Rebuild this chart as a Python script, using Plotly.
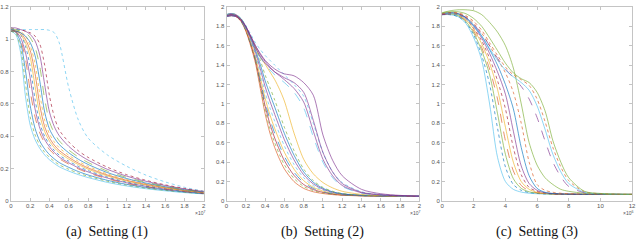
import plotly.graph_objects as go

# ---------------- data ----------------
# Panel (a): x in units of 1e7
xa = [0, .05, .1, .15, .2, .25, .3, .35, .4, .45, .5, .6, .7, .8, 1.0, 1.2, 1.4, 1.6, 1.8, 2.0]
a_curves = [
    [1.05,1.03,0.92,0.65,0.47,0.38,0.325,0.285,0.255,0.232,0.212,0.185,0.163,0.145,0.115,0.093,0.076,0.063,0.052,0.044],
    [1.05,1.035,0.95,0.73,0.52,0.41,0.345,0.302,0.27,0.245,0.224,0.196,0.172,0.153,0.122,0.098,0.08,0.066,0.054,0.045],
    [1.06,1.045,0.98,0.81,0.59,0.45,0.37,0.322,0.287,0.26,0.238,0.208,0.182,0.161,0.128,0.103,0.084,0.069,0.056,0.046],
    [1.05,1.045,0.995,0.88,0.68,0.52,0.42,0.36,0.318,0.288,0.262,0.228,0.198,0.174,0.137,0.109,0.088,0.072,0.058,0.047],
    [1.06,1.05,1.01,0.92,0.76,0.57,0.45,0.38,0.335,0.3,0.272,0.236,0.205,0.18,0.142,0.113,0.091,0.074,0.06,0.048],
    [1.07,1.06,1.03,0.96,0.83,0.63,0.48,0.4,0.35,0.313,0.284,0.246,0.214,0.188,0.148,0.118,0.095,0.077,0.062,0.05],
    [1.05,1.05,1.03,0.98,0.89,0.71,0.53,0.43,0.37,0.33,0.3,0.259,0.225,0.197,0.155,0.123,0.099,0.08,0.064,0.051],
    [1.06,1.05,1.04,1.0,0.93,0.79,0.59,0.46,0.39,0.345,0.313,0.27,0.234,0.205,0.161,0.128,0.103,0.083,0.066,0.053],
    [1.07,1.06,1.05,1.02,0.96,0.85,0.66,0.5,0.415,0.365,0.33,0.283,0.245,0.215,0.168,0.133,0.107,0.086,0.068,0.054],
    [1.05,1.05,1.04,1.02,0.98,0.9,0.74,0.55,0.445,0.39,0.35,0.298,0.258,0.226,0.176,0.139,0.111,0.089,0.07,0.056],
    [1.06,1.06,1.05,1.04,1.01,0.95,0.83,0.63,0.49,0.42,0.373,0.315,0.272,0.238,0.185,0.146,0.116,0.092,0.072,0.057],
    [1.07,1.07,1.06,1.05,1.03,0.99,0.9,0.72,0.55,0.46,0.405,0.338,0.29,0.253,0.196,0.154,0.122,0.096,0.075,0.059],
    [1.06,1.06,1.06,1.05,1.04,1.02,0.97,0.84,0.65,0.52,0.44,0.365,0.31,0.27,0.209,0.163,0.128,0.1,0.078,0.06],
    [1.06,1.06,1.06,1.06,1.06,1.06,1.06,1.06,1.055,1.04,0.98,0.7,0.5,0.39,0.285,0.215,0.16,0.118,0.085,0.06],
]
a_colors = ["#4DBEEE", "#77AC30", "#0072BD", "#D95319", "#7E2F8E", "#0072BD", "#EDB120",
            "#D95319", "#EDB120", "#0072BD", "#77AC30", "#7E2F8E", "#A2142F", "#4DBEEE"]

# Panel (b): x in units of 1e7
xb = [0, .05, .1, .15, .2, .25, .3, .35, .4, .45, .5, .55, .6, .7, .8, .9, 1.0, 1.1, 1.2, 1.4, 1.6, 1.8, 2.0]
b_curves = [
    [1.90,1.91,1.90,1.85,1.75,1.60,1.42,1.16,0.90,0.70,0.55,0.43,0.33,0.20,0.13,0.095,0.077,0.066,0.059,0.053,0.050,0.048,0.047],
    [1.91,1.92,1.90,1.85,1.755,1.61,1.436,1.189,0.94,0.747,0.599,0.477,0.373,0.232,0.15,0.107,0.083,0.069,0.061,0.054,0.05,0.048,0.047],
    [1.90,1.91,1.90,1.86,1.76,1.62,1.452,1.218,0.98,0.794,0.648,0.524,0.416,0.264,0.17,0.118,0.09,0.073,0.063,0.054,0.051,0.048,0.047],
    [1.92,1.93,1.91,1.86,1.765,1.63,1.468,1.247,1.02,0.841,0.697,0.571,0.459,0.296,0.19,0.13,0.096,0.076,0.065,0.055,0.051,0.049,0.047],
    [1.91,1.92,1.91,1.87,1.77,1.64,1.484,1.276,1.06,0.888,0.746,0.618,0.502,0.328,0.21,0.141,0.102,0.08,0.067,0.056,0.051,0.049,0.048],
    [1.90,1.91,1.90,1.87,1.778,1.655,1.508,1.32,1.12,0.959,0.82,0.689,0.567,0.376,0.24,0.158,0.112,0.085,0.07,0.057,0.052,0.049,0.048],
    [1.92,1.93,1.92,1.87,1.785,1.67,1.532,1.363,1.18,1.029,0.893,0.759,0.631,0.424,0.27,0.176,0.121,0.09,0.072,0.058,0.052,0.049,0.048],
    [1.91,1.92,1.91,1.88,1.793,1.685,1.556,1.407,1.24,1.10,0.967,0.83,0.696,0.472,0.30,0.193,0.131,0.095,0.075,0.059,0.053,0.05,0.048],
    [1.92,1.93,1.92,1.88,1.80,1.70,1.58,1.45,1.30,1.17,1.04,0.90,0.76,0.52,0.33,0.21,0.14,0.10,0.078,0.06,0.053,0.05,0.048],
    [1.91,1.92,1.91,1.87,1.79,1.69,1.58,1.48,1.41,1.33,1.25,1.15,1.03,0.70,0.43,0.28,0.19,0.135,0.10,0.068,0.055,0.05,0.048],
    [1.90,1.91,1.90,1.86,1.78,1.68,1.57,1.48,1.41,1.35,1.30,1.26,1.22,1.12,0.96,0.66,0.40,0.24,0.15,0.08,0.06,0.052,0.049],
    [1.91,1.92,1.91,1.87,1.80,1.70,1.60,1.51,1.44,1.38,1.33,1.29,1.25,1.16,1.02,0.72,0.43,0.26,0.16,0.085,0.062,0.053,0.049],
    [1.92,1.93,1.92,1.88,1.81,1.72,1.63,1.56,1.50,1.45,1.40,1.35,1.30,1.20,1.08,0.80,0.50,0.30,0.19,0.095,0.066,0.055,0.05],
    [1.90,1.91,1.90,1.86,1.79,1.69,1.58,1.49,1.42,1.37,1.33,1.30,1.27,1.22,1.12,0.83,0.50,0.30,0.18,0.09,0.065,0.055,0.05],
    [1.91,1.92,1.91,1.87,1.80,1.70,1.60,1.52,1.45,1.40,1.36,1.33,1.31,1.29,1.22,1.09,0.68,0.42,0.26,0.12,0.075,0.058,0.05],
]
b_colors = ["#D95319", "#77AC30", "#A2142F", "#0072BD", "#EDB120", "#4DBEEE", "#7E2F8E",
            "#0072BD", "#77AC30", "#EDB120", "#4DBEEE", "#7E2F8E", "#4DBEEE", "#7E2F8E", "#7E2F8E"]

# Panel (c): x in units of 1e6
xc = [0, 0.5, 1, 1.5, 2, 2.5, 3, 3.5, 4, 4.5, 5, 5.5, 6, 6.5, 7, 7.5, 8, 9, 10, 11, 12]
c_curves = [
    [1.92,1.92,1.90,1.83,1.68,1.45,1.00,0.45,0.20,0.12,0.092,0.08,0.075,0.072,0.07,0.069,0.068,0.068,0.067,0.067,0.067],
    [1.92,1.92,1.90,1.84,1.71,1.50,1.20,0.75,0.35,0.17,0.11,0.088,0.078,0.073,0.071,0.07,0.069,0.068,0.068,0.067,0.067],
    [1.93,1.93,1.91,1.85,1.73,1.55,1.30,0.90,0.48,0.23,0.13,0.095,0.082,0.075,0.072,0.07,0.069,0.068,0.068,0.067,0.067],
    [1.92,1.93,1.91,1.86,1.75,1.58,1.36,1.05,0.62,0.31,0.16,0.105,0.085,0.077,0.073,0.071,0.07,0.069,0.068,0.068,0.067],
    [1.93,1.93,1.92,1.87,1.77,1.62,1.42,1.15,0.76,0.40,0.20,0.12,0.09,0.078,0.073,0.071,0.07,0.069,0.068,0.068,0.067],
    [1.92,1.93,1.92,1.88,1.78,1.65,1.47,1.24,0.95,0.55,0.27,0.14,0.10,0.082,0.075,0.072,0.07,0.069,0.068,0.068,0.068],
    [1.93,1.94,1.93,1.89,1.80,1.68,1.52,1.33,1.10,0.72,0.36,0.18,0.11,0.085,0.076,0.072,0.07,0.069,0.068,0.068,0.068],
    [1.93,1.94,1.93,1.89,1.81,1.70,1.56,1.40,1.20,0.95,0.55,0.26,0.13,0.09,0.078,0.073,0.071,0.069,0.068,0.068,0.068],
    [1.93,1.94,1.93,1.90,1.83,1.73,1.60,1.46,1.32,1.12,0.80,0.40,0.17,0.11,0.09,0.08,0.075,0.071,0.069,0.068,0.068],
    [1.94,1.96,1.97,1.97,1.96,1.92,1.84,1.74,1.60,1.37,1.00,0.60,0.37,0.24,0.17,0.12,0.10,0.08,0.072,0.07,0.069],
    [1.92,1.93,1.92,1.89,1.82,1.72,1.60,1.47,1.36,1.27,1.18,1.05,0.86,0.62,0.40,0.25,0.15,0.085,0.073,0.069,0.068],
    [1.93,1.93,1.92,1.88,1.80,1.70,1.57,1.45,1.35,1.28,1.22,1.14,0.98,0.74,0.48,0.30,0.18,0.09,0.075,0.07,0.068],
    [1.93,1.94,1.94,1.91,1.85,1.76,1.63,1.50,1.38,1.30,1.25,1.19,1.05,0.82,0.55,0.35,0.21,0.095,0.076,0.07,0.069],
    [1.94,1.95,1.95,1.93,1.88,1.80,1.68,1.55,1.42,1.32,1.26,1.22,1.12,0.93,0.62,0.40,0.24,0.10,0.078,0.071,0.069],
]
c_colors = ["#4DBEEE", "#0072BD", "#77AC30", "#D95319", "#EDB120", "#A2142F", "#7E2F8E",
            "#0072BD", "#D95319", "#77AC30", "#7E2F8E", "#4DBEEE", "#D95319", "#77AC30"]

ab_ticks = [0, 0.2, 0.4, 0.6, 0.8, 1.0, 1.2, 1.4, 1.6, 1.8, 2.0]
ab_ticktext = ["0", "0.2", "0.4", "0.6", "0.8", "1", "1.2", "1.4", "1.6", "1.8", "2"]
c_ticks = [0, 2, 4, 6, 8, 10, 12]
c_ticktext = ["0", "2", "4", "6", "8", "10", "12"]
ya_ticks = [0, 0.2, 0.4, 0.6, 0.8, 1.0, 1.2]
ya_ticktext = ["0", "0.2", "0.4", "0.6", "0.8", "1", "1.2"]
captions = ["(a)  Setting (1)", "(b)  Setting (2)", "(c)  Setting (3)"]
exponents = ["×10<sup>7</sup>", "×10<sup>7</sup>", "×10<sup>6</sup>"]

# ---------------- figure ----------------
W, H = 640, 244
fig = go.Figure()
dashes = ["solid", "dot", "solid", "dash", "solid", "dot", "solid"]

panels = [(xa, a_curves, a_colors, "x", "y"),
          (xb, b_curves, b_colors, "x2", "y2"),
          (xc, c_curves, c_colors, "x3", "y3")]
for p, (xs, curves, cols, xr, yr) in enumerate(panels):
    for i, ys in enumerate(curves):
        dash = dashes[i % len(dashes)]
        if p == 0 and i == len(curves) - 1:
            dash = "dot"
        fig.add_trace(go.Scatter(
            x=xs, y=ys, mode="lines", xaxis=xr, yaxis=yr,
            line=dict(color=cols[i % len(cols)], width=0.8, shape="spline",
                      smoothing=0.8, dash=dash),
            opacity=0.8, showlegend=False, hoverinfo="skip"))

px_dom = [(8, 203), (226, 421), (444, 636)]
ydom = [(H - 203) / H, (H - 4) / H]
tickfont = dict(family="Liberation Sans, Arial, sans-serif", size=6, color="#555555")
axcommon = dict(showline=True, linecolor="#c4c4c4", linewidth=1, mirror="ticks",
                ticks="inside", ticklen=3, tickcolor="#c4c4c4", showgrid=False,
                zeroline=False, tickfont=tickfont, fixedrange=True,
                ticklabeloverflow="allow")

xranges = [[0, 2], [0, 2], [0, 12]]
xtv = [(ab_ticks, ab_ticktext), (ab_ticks, ab_ticktext), (c_ticks, c_ticktext)]
yranges = [[0, 1.2], [0, 2], [0, 2]]
ytv = [(ya_ticks, ya_ticktext), (ab_ticks, ab_ticktext), (ab_ticks, ab_ticktext)]

layout = dict(width=W, height=H, margin=dict(l=0, r=0, t=0, b=0),
              paper_bgcolor="white", plot_bgcolor="white", showlegend=False)
anns = []
exp_right = [206, 424, 639]
for k in range(3):
    sx = "" if k == 0 else str(k + 1)
    d0, d1 = px_dom[k]
    layout["xaxis" + sx] = dict(domain=[d0 / W, d1 / W], range=xranges[k],
                                tickvals=xtv[k][0], ticktext=xtv[k][1],
                                anchor="y" + sx, ticklabelstandoff=-1, **axcommon)
    layout["yaxis" + sx] = dict(domain=ydom, range=yranges[k],
                                tickvals=ytv[k][0], ticktext=ytv[k][1],
                                anchor="x" + sx, ticklabelstandoff=0, **axcommon)
    anns.append(dict(text=exponents[k], xref="paper", yref="paper",
                     x=exp_right[k] / W, y=(H - 215) / H, xanchor="right", yanchor="middle",
                     showarrow=False, font=dict(family="Liberation Sans, Arial, sans-serif",
                                                size=5, color="#555555")))
    anns.append(dict(text=captions[k], xref="paper", yref="paper",
                     x=(d0 + d1) / 2 / W, y=(H - 235) / H, xanchor="center", yanchor="middle",
                     showarrow=False, font=dict(family="Liberation Serif, serif",
                                                size=14, color="#111111")))
layout["annotations"] = anns
fig.update_layout(**layout)
fig.write_html("out.html", config={"displayModeBar": False, "staticPlot": True},
               post_script="document.body.style.margin='0';document.body.style.overflow='hidden';")
